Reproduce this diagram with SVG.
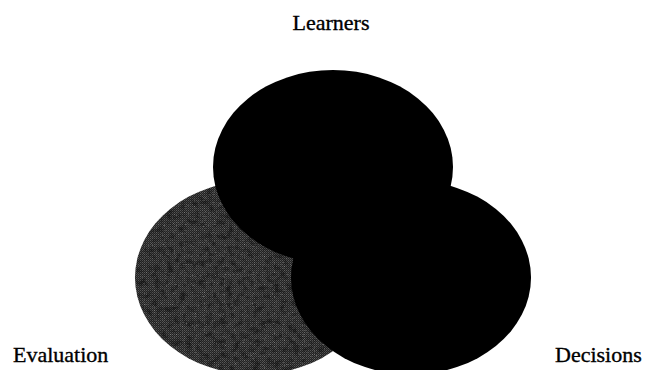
<svg xmlns="http://www.w3.org/2000/svg" width="648" height="370" viewBox="0 0 648 370">
<style>
  .lbl { font-family: "Liberation Serif", "Times New Roman", serif; font-size: 22px; fill: #000; stroke: #000; stroke-width: 0.35px; }
  .solid { fill: #000; }
</style>
<defs>
  <pattern id="mesh" width="2" height="2" patternUnits="userSpaceOnUse">
    <rect width="2" height="2" fill="#222"/>
    <rect x="0" y="0" width="1" height="1" fill="#575757"/>
    <rect x="1" y="1" width="1" height="1" fill="#3e3e3e"/>
  </pattern>
  <filter id="blotch" x="0%" y="0%" width="100%" height="100%">
    <feTurbulence type="fractalNoise" baseFrequency="0.15" numOctaves="3" seed="5" result="t"/>
    <feColorMatrix in="t" type="matrix" values="0 0 0 0 0  0 0 0 0 0  0 0 0 0 0  3 0 0 0 -1.4" result="dark"/>
    <feComposite in="dark" in2="SourceGraphic" operator="in"/>
  </filter>
  <filter id="speck" x="0%" y="0%" width="100%" height="100%">
    <feTurbulence type="fractalNoise" baseFrequency="0.9" numOctaves="1" seed="11" result="t"/>
    <feColorMatrix in="t" type="matrix" values="0 0 0 0 0.7  0 0 0 0 0.7  0 0 0 0 0.7  0 6 0 0 -3.8" result="lt"/>
    <feComposite in="lt" in2="SourceGraphic" operator="in"/>
  </filter>
</defs>
<rect width="648" height="370" fill="#fff"/>
<g id="evaluation">
  <ellipse cx="255" cy="277.5" rx="120" ry="97" fill="url(#mesh)"/>
  <ellipse cx="255" cy="277.5" rx="119" ry="96" fill="#000" filter="url(#blotch)" opacity="0.45"/>
  <ellipse cx="255" cy="277.5" rx="118" ry="95" fill="#fff" filter="url(#speck)" opacity="0.35"/>
  <text class="lbl" x="13" y="362">Evaluation</text>
</g>
<g id="decisions">
  <ellipse class="solid" cx="411" cy="277.5" rx="120" ry="97"/>
  <text class="lbl" x="555" y="362">Decisions</text>
</g>
<g id="learners">
  <ellipse class="solid" cx="333" cy="167" rx="120" ry="97"/>
  <text class="lbl" x="331" y="30" text-anchor="middle">Learners</text>
</g>
<g id="connectors"></g>
</svg>
